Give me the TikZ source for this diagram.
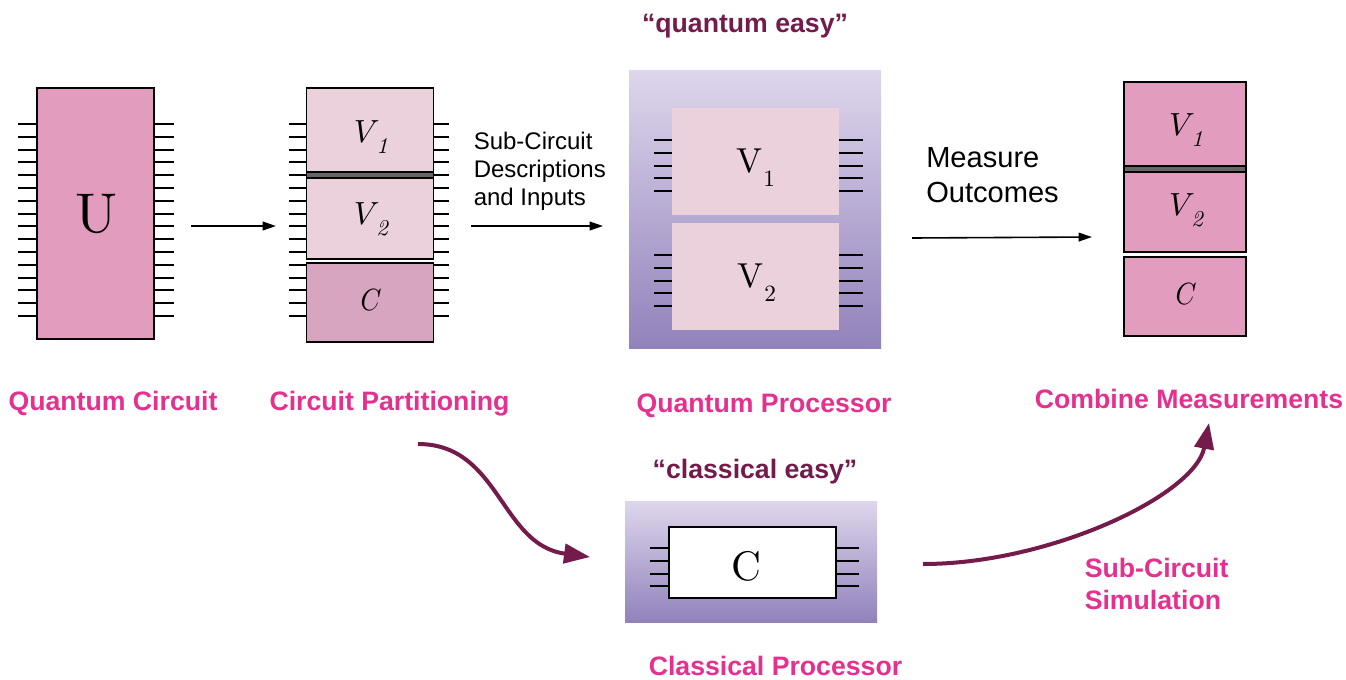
\documentclass[tikz,border=0pt]{standalone}
\usepackage[no-math]{fontspec}
\usepackage{graphicx}
\usetikzlibrary{arrows.meta}
\newfontfamily\lsans{Liberation Sans}
\definecolor{ufill}{HTML}{E29CBD}
\definecolor{vfill}{HTML}{EBD1DC}
\definecolor{cfill}{HTML}{D7A5BF}
\definecolor{barfill}{HTML}{666666}
\definecolor{pinktxt}{HTML}{E5308F}
\definecolor{maroon}{HTML}{741B4C}
\definecolor{gradtop}{HTML}{DED6EC}
\definecolor{gradbot}{HTML}{9182BB}
\def\px{0.75pt}
\newcommand\itv[1]{\scalebox{2.4}{$V$}\kern-2.5pt\raisebox{-8pt}{\scalebox{1.7}{\itshape #1}}}
\newcommand\rmv[1]{\scalebox{2.6}{V}\kern1pt\raisebox{-10.5pt}{\scalebox{1.75}{#1}}}
\newcommand\itc{\scalebox{2.0}[2.3]{$C$}}
\newcommand\wirelist{124,137,150,162,175,188,201,214,226,239,252,265,278,290,303,316}
\tikzset{
  bx/.style 2 args={rectangle,inner sep=0pt,outer sep=0pt,minimum width=#1*\px,minimum height=#2*\px},
  ckt/.style={draw=black,line width=1.3pt},
  wire/.style={draw=black,line width=1.2pt},
  sym/.style={inner sep=0pt,outer sep=0pt},
  pinklabel/.style={font=\lsans\bfseries\fontsize{20}{24}\selectfont,text=pinktxt,inner sep=0pt},
  easylabel/.style={font=\lsans\bfseries\fontsize{20}{24}\selectfont,text=maroon,inner sep=0pt},
  flow/.style={draw=black,line width=1.2pt,-{Triangle[length=10pt,width=6.5pt]}},
  bigflow/.style={draw=maroon,line width=3pt,-{Triangle[length=19.5pt,width=14.5pt]}},
}
\begin{document}
\begin{tikzpicture}[x=0.75pt,y=-0.75pt]
\useasboundingbox (0,0) rectangle (1346,679);
\fill[white] (0,0) rectangle (1346,679);

% Quantum circuit U
\node[bx={117}{251},ckt,fill=ufill] (u) at (95.5,213.5) {};
\node[sym] (ut) at (96,214) {\scalebox{4.2}{U}};
\foreach \y in \wirelist{
  \draw[wire] (u.west |- 0,\y) -- ++(-19,0);
  \draw[wire] (u.east |- 0,\y) -- ++(20,0);
}

% Partitioned circuit
\node[bx={127}{84},ckt,fill=vfill] (pv1) at (370,130) {};
\node[bx={127}{5},ckt,fill=barfill] (pbar) at (370,175) {};
\node[bx={127}{81},ckt,fill=vfill] (pv2) at (370,218.5) {};
\node[bx={127}{79},ckt,fill=cfill] (pc) at (370,302.5) {};
\node[sym] (pv1t) at (371,137) {\itv{1}};
\node[sym] (pv2t) at (371,219.5) {\itv{2}};
\node[sym] (pct) at (371,300) {\itc};
\foreach \y in \wirelist{
  \draw[wire] (pv1.west |- 0,\y) -- ++(-18,0);
  \draw[wire] (pv1.east |- 0,\y) -- ++(15,0);
}

% Quantum processor
\node[bx={252}{278},top color=gradtop,bottom color=gradbot,shading angle=0] (qp) at (755,209) {};
\node[bx={167}{107},fill=vfill] (qv1) at (755.5,161.5) {};
\node[bx={167}{107},fill=vfill] (qv2) at (755.5,276.5) {};
\node[sym] (qv1t) at (755.5,168) {\rmv{1}};
\node[sym] (qv2t) at (756.5,283) {\rmv{2}};
\foreach \y in {140,153,166,178,191}{
  \draw[wire] (qv1.west |- 0,\y) -- ++(-18,0);
  \draw[wire] (qv1.east |- 0,\y) -- ++(24,0);
}
\foreach \y in {255,268,281,293,306}{
  \draw[wire] (qv2.west |- 0,\y) -- ++(-18,0);
  \draw[wire] (qv2.east |- 0,\y) -- ++(24,0);
}

% Combined result
\node[bx={122.5}{84.5},ckt,fill=ufill] (rv1) at (1185,124) {};
\node[bx={122.5}{5},ckt,fill=barfill] (rbar) at (1185,169) {};
\node[bx={122.5}{80},ckt,fill=ufill] (rv2) at (1185,212) {};
\node[bx={122.5}{79},ckt,fill=ufill] (rc) at (1185,296.5) {};
\node[sym] (rv1t) at (1186,130) {\itv{1}};
\node[sym] (rv2t) at (1186,210) {\itv{2}};
\node[sym] (rct) at (1186,294.5) {\itc};

% Classical processor
\node[bx={252}{121},top color=gradtop,bottom color=gradbot,shading angle=0] (cp) at (751,561.5) {};
\node[bx={167}{71},ckt,fill=white] (cc) at (752.5,562.5) {};
\node[sym] (cct) at (746.5,566) {\scalebox{3.1}{C}};
\foreach \y in {548,561,574,586}{
  \draw[wire] (cc.west |- 0,\y) -- ++(-19,0);
  \draw[wire] (cc.east |- 0,\y) -- ++(23,0);
}

% Straight arrows
\coordinate (a1s) at (191,226); \coordinate (a1e) at (276,226);
\coordinate (a2s) at (471,226); \coordinate (a2e) at (603,226);
\coordinate (a3s) at (912,238); \coordinate (a3e) at (1092,237);
\draw[flow] (a1s) -- (a1e);
\draw[flow] (a2s) -- (a2e);
\draw[flow] (a3s) -- (a3e);

% Curved arrows
\coordinate (c1s) at (418,444); \coordinate (c1e) at (590,557);
\coordinate (c2s) at (923,564); \coordinate (c2e) at (1209,423);
\draw[bigflow] (c1s) .. controls (500,444) and (500,545) .. (c1e);
\draw[bigflow] (c2s) .. controls (1050,564) and (1195,495) .. (c2e);

% Labels
\node[pinklabel] (l1) at (113,403) {Quantum Circuit};
\node[pinklabel] (l2) at (389.5,404) {Circuit Partitioning};
\node[pinklabel] (l3) at (764,406) {Quantum Processor};
\node[pinklabel] (l4) at (1189,399) {Combine Measurements};
\node[pinklabel] (l5) at (775.5,666) {Classical Processor};
\node[easylabel] (e1) at (745,26) {“quantum easy”};
\node[easylabel] (e2) at (755,472) {“classical easy”};
\node[pinklabel,anchor=west,align=left] (l6) at (1084.5,584) {Sub-Circuit\\Simulation};
\node[anchor=west,align=left,inner sep=0pt,font=\lsans\fontsize{18}{21}\selectfont] (t1) at (473.5,171) {Sub-Circuit\\Descriptions\\and Inputs};
\node[anchor=west,align=left,inner sep=0pt,font=\lsans\fontsize{21.8}{26.2}\selectfont] (t2) at (926,175.5) {Measure\\Outcomes};
\end{tikzpicture}
\end{document}
